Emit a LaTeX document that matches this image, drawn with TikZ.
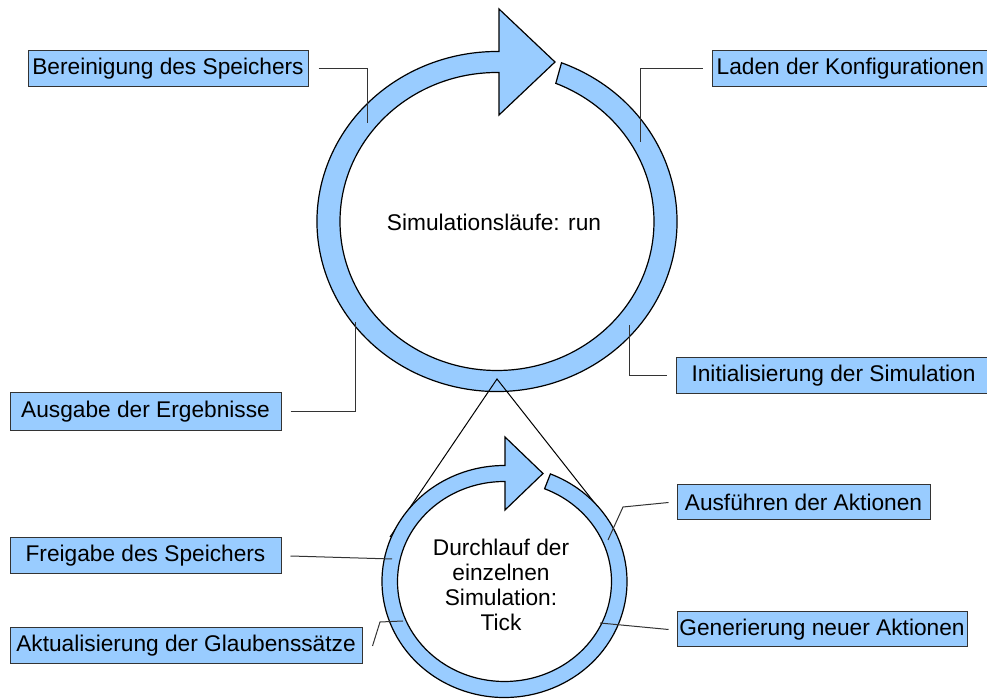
\documentclass[tikz,border=0pt]{standalone}
\usepackage{fontspec}
\setmainfont{Liberation Sans}
\definecolor{ringblue}{RGB}{153,204,255}

\begin{document}
\begin{tikzpicture}[font=\fontsize{11.35}{12.5}\selectfont,
  box/.style={draw=black!80, fill=ringblue, line width=0.5pt, inner sep=0pt, minimum height=18pt},
  ring/.style={draw=black, fill=ringblue, line width=0.6pt},
  callout/.style={draw=black!80, line width=0.5pt},
  zoomline/.style={draw=black, line width=0.5pt}]
  \begin{scope}[x=0.5pt, y=-0.5pt]
  \useasboundingbox (0,0) rectangle (987,699);
	% outer cycle: run
	\draw[ring] (497,221.5) ++(-69:180 and 170) arc[start angle=-69, end angle=270, x radius=180, y radius=170]
	  -- (499,51.5) -- (499,9) -- (555,62) -- (499,115) -- (499,72.5) -- (497,72.5)
	  arc[start angle=270, end angle=-68, x radius=157, y radius=149] -- cycle;
	\node (run) at (494,222) {Simulationsläufe: run};
	% zoom into one run
	\coordinate (apex) at (497,379);
	\coordinate (tickleft) at (390,537);
	\coordinate (tickright) at (608,520);
	\draw[zoomline] (tickleft) -- (apex) -- (tickright);
	% inner cycle: tick
	\draw[ring] (504.5,581.5) ++(-68:122.5 and 116) arc[start angle=-68, end angle=270, x radius=122.5, y radius=116]
	  -- (505,465.5) -- (505,437) -- (543,473.5) -- (505,510) -- (505,481.5) -- (504.5,481.5)
	  arc[start angle=270, end angle=-68, x radius=107, y radius=100] -- cycle;
	\node[align=center] (tick) at (501,584.5) {Durchlauf der\\einzelnen\\Simulation:\\Tick};
	% labels
	\node[box, minimum width=140pt] (bereinigung) at (168,69) {Bereinigung des Speichers};
	\node[box, minimum width=138.5pt] (laden) at (850.5,69) {Laden der Konfigurationen};
	\node[box, minimum width=135.5pt, minimum height=19pt] (ausgabe) at (145.5,412) {Ausgabe der Ergebnisse};
	\node[box, minimum width=157.5pt] (initialisierung) at (833.5,376) {Initialisierung der Simulation};
	\node[box, minimum width=135.5pt] (freigabe) at (145.5,556) {Freigabe des Speichers};
	\node[box, minimum width=176pt] (aktualisierung) at (186,646) {Aktualisierung der Glaubenssätze};
	\node[box, minimum width=126.5pt, minimum height=17.5pt] (ausfuehren) at (803.5,502.5) {Ausführen der Aktionen};
	\node[box, minimum width=145pt, minimum height=17.5pt] (generierung) at (822,629.5) {Generierung neuer Aktionen};
	% callout ends on the rings
	\coordinate (c1) at (367,123);
	\coordinate (c2) at (640,142);
	\coordinate (c3) at (355,322);
	\coordinate (c4) at (629,325);
	\coordinate (c5) at (392,559);
	\coordinate (c6) at (403,621);
	\coordinate (k6) at (380,622);
	\coordinate (c7) at (608,540);
	\coordinate (k7) at (623,507);
	\coordinate (c8) at (600,623);
	\draw[callout] ([xshift=5pt]bereinigung.east) -| (c1);
	\draw[callout] ([xshift=-4.5pt]laden.west) -| (c2);
	\draw[callout] ([xshift=4.5pt]ausgabe.east) -| (c3);
	\draw[callout] ([xshift=-4.5pt]initialisierung.west) -| (c4);
	\draw[callout] ([xshift=4.5pt]freigabe.east) -- (c5);
	\draw[callout] ([xshift=5pt]aktualisierung.east) -- (k6) -- (c6);
	\draw[callout] ([xshift=-4pt]ausfuehren.west) -- (k7) -- (c7);
	\draw[callout] ([xshift=-4pt]generierung.west) -- (c8);
  \end{scope}
\end{tikzpicture}
\end{document}
